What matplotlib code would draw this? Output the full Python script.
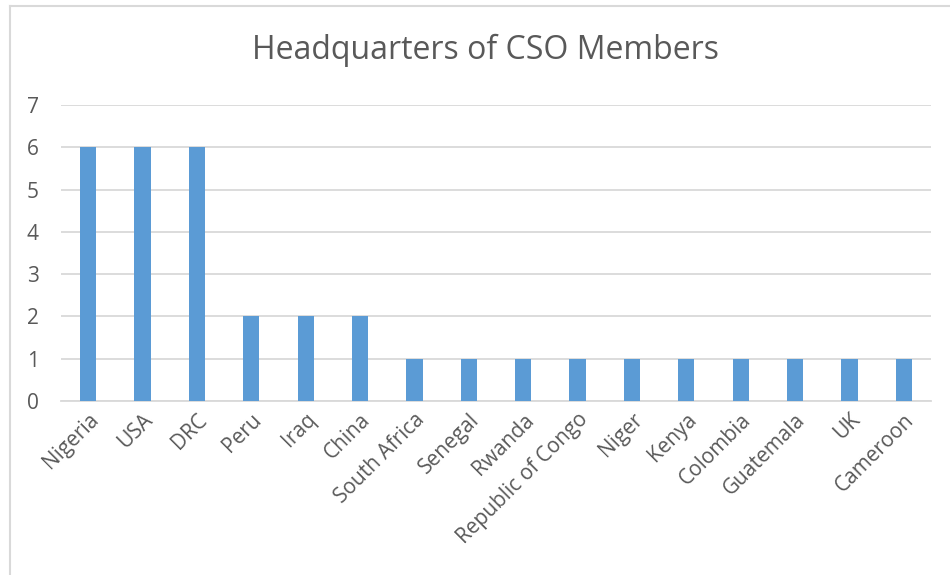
import matplotlib
matplotlib.use("Agg")
from matplotlib import pyplot as plt
import numpy as np

plt.rcParams['font.family'] = ['Open Sans', 'DejaVu Sans']

# data
countries = ["Nigeria", "USA", "DRC", "Peru", "Iraq", "China", "South Africa",
             "Senegal", "Rwanda", "Republic of Congo", "Niger", "Kenya",
             "Colombia", "Guatemala", "UK", "Cameroon"]
members = [6, 6, 6, 2, 2, 2, 1, 1, 1, 1, 1, 1, 1, 1, 1, 1]
yticks = [0, 1, 2, 3, 4, 5, 6, 7]

textcol = "#595959"
gridcol = "#D9D9D9"

fig = plt.figure(figsize=(9.5, 5.75), dpi=100)
ax = fig.add_axes([61/950, 1-401/575, (931-61)/950, (401-105)/575])

x = np.arange(len(countries))
ax.bar(x, members, width=0.3, color="#5B9BD5", zorder=3)

ax.set_xlim(-0.5, len(countries)-0.5)
ax.set_ylim(0, 7)
ax.set_yticks(yticks)
ax.grid(axis="y", color=gridcol, linewidth=1.3, zorder=0)
for s in ["top", "right", "left"]:
    ax.spines[s].set_visible(False)
ax.spines["bottom"].set_color(gridcol)
ax.spines["bottom"].set_linewidth(1.3)
ax.tick_params(length=0, colors=textcol, labelsize=15)
ax.tick_params(axis="y", pad=16)
ax.tick_params(axis="x", pad=6)
ax.set_xticks(x)
ax.set_xticklabels(countries, rotation=45, ha="right", rotation_mode="anchor")

fig.text(486/950, 1-50/575, "Headquarters of CSO Members", ha="center", va="center",
         fontsize=23, color=textcol)

# chart area border (cropped on the right and bottom)
fig.add_artist(plt.Line2D([10/950, 10/950], [0, 1-6/575], transform=fig.transFigure,
                          color=gridcol, linewidth=1.5))
fig.add_artist(plt.Line2D([10/950, 1], [1-6/575, 1-6/575], transform=fig.transFigure,
                          color=gridcol, linewidth=1.5))

fig.savefig("out.png", dpi=100)
